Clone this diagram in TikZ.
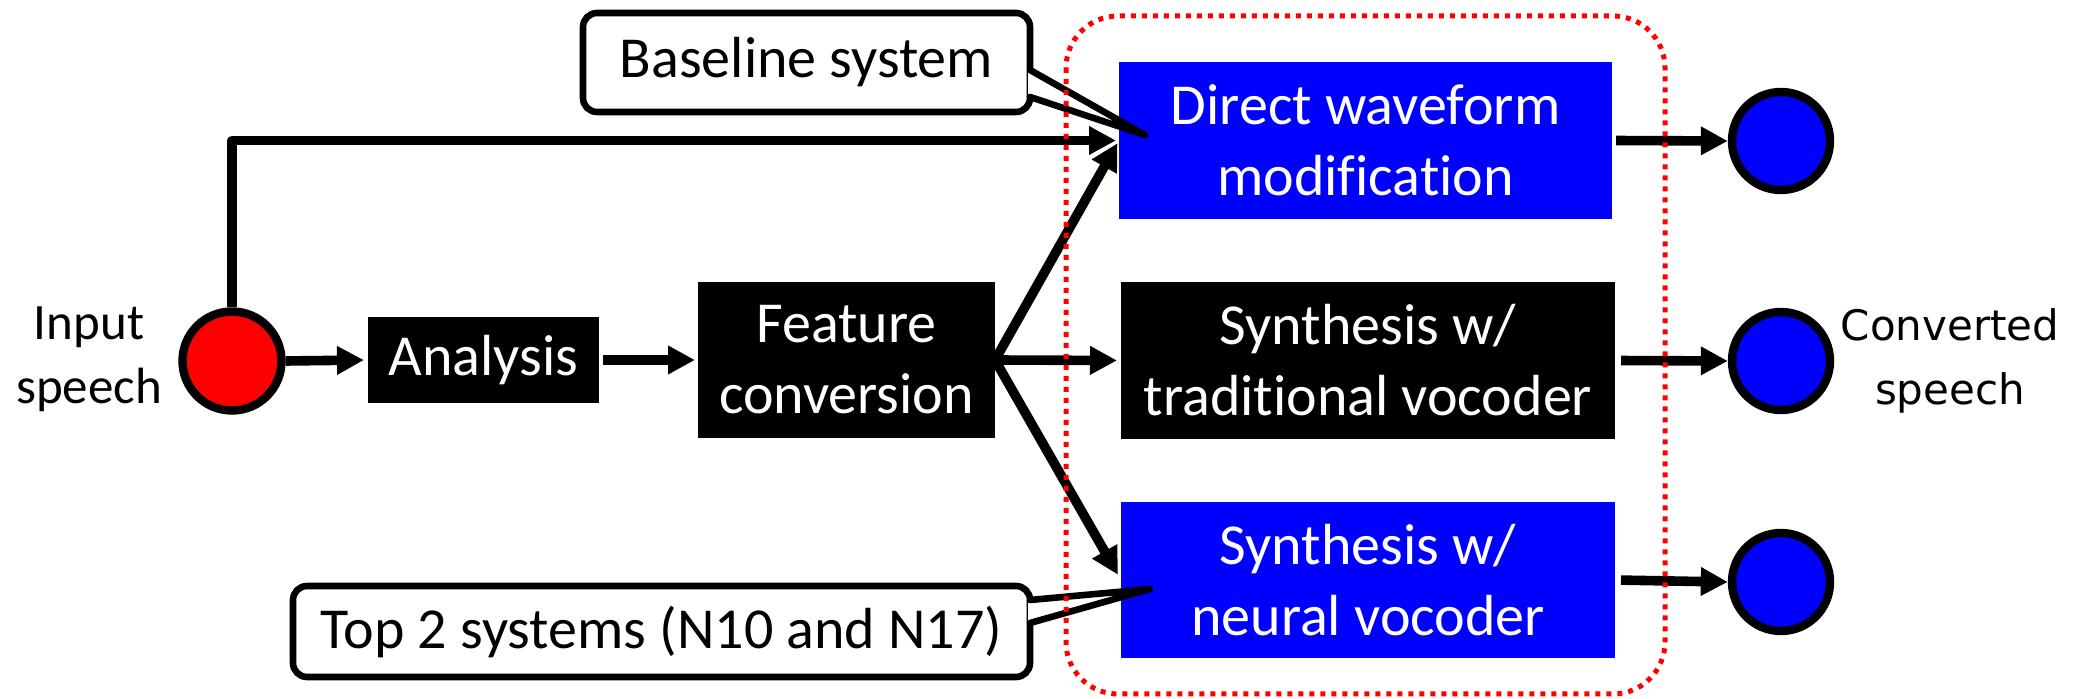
\documentclass[tikz,border=0pt]{standalone}
\usepackage{fontspec}
\setmainfont{Carlito}[Ligatures={NoCommon}]
\newfontfamily\dejavu{DejaVu Sans}
\usetikzlibrary{arrows.meta,calc}
\definecolor{pblue}{RGB}{0,0,255}
\definecolor{pred}{RGB}{255,0,0}
\begin{document}
\begin{tikzpicture}[x=0.5pt,y=-0.5pt,
  box/.style={rectangle, inner sep=0pt, outer sep=0pt, align=center, text=white, font=\fontsize{29}{35.5}\selectfont},
  blackbox/.style={box, fill=black},
  bluebox/.style={box, fill=pblue},
  dot/.style={circle, draw=black, line width=4.2pt, minimum size=49.5pt, inner sep=0pt},
  arr/.style={line width=4.8pt, -{Triangle[length=13.5pt,width=13.5pt]}},
  callout/.style={draw=black, fill=white, line width=3.3pt, rounded corners=7pt, inner sep=0pt, outer sep=0pt, font=\fontsize{29}{35.5}\selectfont},
  tail/.style={line width=3.3pt, line cap=round, line join=round},
  grp/.style={draw=pred, line width=2.5pt, dash pattern=on 2.5pt off 3pt, rounded corners=26pt}
]
\useasboundingbox (0,0) rectangle (2078,699);

% input
\node[dot, fill=pred] (in) at (232,361) {};
\node[align=center, font=\fontsize{25.5}{32}\selectfont] (inlab) at (89,359) {Input\\speech};

% processing boxes
\node[blackbox, minimum width=115.5pt, minimum height=43pt] (an) at (483.5,360) {Analysis};
\node[blackbox, minimum width=148.5pt, minimum height=78pt] (fc) at (846.5,360) {Feature\\conversion};
\node[bluebox, minimum width=246.5pt, minimum height=78.5pt] (dwm) at (1365.5,140.5) {Direct waveform\\modification};
\node[blackbox, minimum width=247pt, minimum height=78.5pt] (swt) at (1368,360.5) {Synthesis w/\\traditional vocoder};
\node[bluebox, minimum width=247pt, minimum height=78pt] (swn) at (1368,580) {Synthesis w/\\neural vocoder};

% outputs
\node[dot, fill=pblue, minimum size=49pt] (o1) at (1781,141) {};
\node[dot, fill=pblue, minimum size=49pt] (o2) at (1781,361) {};
\node[dot, fill=pblue, minimum size=49pt] (o3) at (1781,582) {};
\node[align=center, font=\dejavu\fontsize{21}{32}\selectfont] (outlab) at (1950,361) {Converted\\speech};

% connectors
\draw[arr, shorten >=2pt] (in.east) -- (an.west);
\draw[arr, shorten <=2pt, shorten >=1.5pt] (an.east) -- (fc.west);
\draw[arr, line join=round, shorten >=1.5pt] (in.north) |- (dwm.west);
\draw[arr, shorten >=1.5pt] (fc.east) -- (dwm.west);
\draw[arr, shorten >=2pt] (fc.east) -- (swt.west);
\draw[arr, shorten >=3pt] (fc.east) -- (swn.west);
\draw[arr, shorten <=2pt] (dwm.east) -- (o1.west);
\draw[arr, shorten <=3pt] (swt.east) -- (o2.west);
\draw[arr, shorten <=3pt] (swn.east) -- (o3.west);

% callouts
\node[callout, minimum width=223.5pt, minimum height=49.5pt] (cb1) at (806.5,62.5) {Baseline system};
\coordinate (t1) at (1145,135);
\fill[white] ($(cb1.east)+(-2,7.5)$) -- (t1) -- ($(cb1.east)+(-2,34.5)$) -- cycle;
\draw[tail] ($(cb1.east)+(0,7.5)$) -- (t1) -- ($(cb1.east)+(0,34.5)$);

\node[callout, minimum width=368.5pt, minimum height=45.5pt] (cb2) at (661.5,631.5) {Top 2 systems (N10 and N17)};
\coordinate (t2) at (1150,589);
\fill[white] ($(cb2.east)+(-2,-31.5)$) -- (t2) -- ($(cb2.east)+(-2,-8.5)$) -- cycle;
\draw[tail] ($(cb2.east)+(0,-31.5)$) -- (t2) -- ($(cb2.east)+(0,-8.5)$);

% group frame
\draw[grp] (1066,16) rectangle (1665,694);
\end{tikzpicture}
\end{document}
